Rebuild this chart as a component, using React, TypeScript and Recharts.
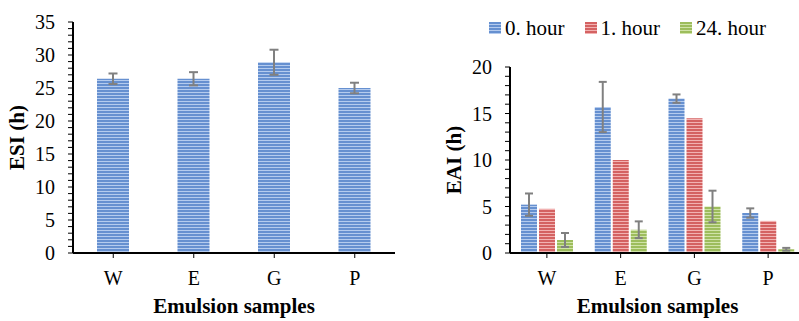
import React from "react";
import { Bar, BarChart, ErrorBar, Legend, XAxis, YAxis } from "recharts";

const samples = ["W", "E", "G", "P"];

// emulsion stability index (h) with standard deviation
const esiValues = [26.4, 26.4, 28.9, 25.0];
const esiErrors = [0.8, 1.0, 1.9, 0.8];

// emulsifying activity index (h) at each sampling time
const eaiHour0 = [5.2, 15.7, 16.6, 4.3];
const eaiHour0Err = [1.2, 2.7, 0.45, 0.5];
const eaiHour1 = [4.75, 10.0, 14.5, 3.45];
const eaiHour24 = [1.4, 2.5, 5.0, 0.4];
const eaiHour24Err = [0.75, 0.9, 1.7, 0.15];

const esiMajorTicks = [0, 5, 10, 15, 20, 25, 30, 35];
const eaiMajorTicks = [0, 5, 10, 15, 20];

const FONT = "Liberation Serif";

const esiData = samples.map((name, i) => ({
  name,
  esi: esiValues[i],
  esiErr: esiErrors[i],
}));

const eaiData = samples.map((name, i) => ({
  name,
  h0: eaiHour0[i],
  h0Err: eaiHour0Err[i],
  h1: eaiHour1[i],
  h24: eaiHour24[i],
  h24Err: eaiHour24Err[i],
}));

const minorTicks = (max: number) => Array.from({ length: max + 1 }, (_, i) => i);

const stripes = [
  { id: "stripe-blue", dark: "#6690d0", light: "#b4cbee" },
  { id: "stripe-red", dark: "#d46262", light: "#f2b2b2" },
  { id: "stripe-green", dark: "#9dbd5c", light: "#d0e3a8" },
];

const StripeDefs = ({ suffix }: { suffix: string }) => (
  <defs>
    {stripes.map((s) => (
      <pattern
        key={s.id}
        id={`${s.id}-${suffix}`}
        width={6}
        height={3}
        patternUnits="userSpaceOnUse"
      >
        <rect width={6} height={3} fill={s.light} />
        <rect width={6} height={2} fill={s.dark} />
      </pattern>
    ))}
  </defs>
);

const YTick = ({ x, y, payload, majors }: any) => {
  if (!majors.includes(payload.value)) return null;
  return (
    <text
      x={x}
      y={y}
      dy="0.35em"
      textAnchor="end"
      style={{ fontFamily: FONT, fontSize: 20 }}
      fill="#000"
    >
      {payload.value}
    </text>
  );
};

const XTick = ({ x, y, payload }: any) => (
  <text
    x={x}
    y={y}
    dy="0.71em"
    textAnchor="middle"
    style={{ fontFamily: FONT, fontSize: 20 }}
    fill="#000"
  >
    {payload.value}
  </text>
);

const yTitle = (text: string, dx: number) => (props: any) => {
  const { x, y, height } = props.viewBox;
  const cx = x + dx;
  const cy = y + height / 2;
  return (
    <text
      x={cx}
      y={cy}
      transform={`rotate(-90 ${cx} ${cy})`}
      textAnchor="middle"
      dominantBaseline="central"
      style={{ fontFamily: FONT, fontSize: 21, fontWeight: "bold" }}
      fill="#000"
    >
      {text}
    </text>
  );
};

const xTitle = (props: any) => {
  const { x, y, width } = props.viewBox;
  return (
    <text
      x={x + width / 2}
      y={y + 60}
      textAnchor="middle"
      style={{ fontFamily: FONT, fontSize: 21, fontWeight: "bold" }}
      fill="#000"
    >
      Emulsion samples
    </text>
  );
};

const axisLine = { stroke: "#000", strokeWidth: 2 };
const tickLine = { stroke: "#000", strokeWidth: 1 };

const eaiSeries = [
  { key: "h0", name: "0. hour", fill: "url(#stripe-blue-r)" },
  { key: "h1", name: "1. hour", fill: "url(#stripe-red-r)" },
  { key: "h24", name: "24. hour", fill: "url(#stripe-green-r)" },
];

const EaiLegend = () => (
  <div style={{ display: "flex", height: 30, alignItems: "center" }}>
    {eaiSeries.map((s) => (
      <div
        key={s.key}
        style={{ display: "flex", alignItems: "center", marginRight: 20 }}
      >
        <svg width={12} height={12} style={{ marginRight: 4 }}>
          <rect width={12} height={12} fill={s.fill} />
        </svg>
        <span style={{ fontFamily: FONT, fontSize: 21, color: "#000" }}>
          {s.name}
        </span>
      </div>
    ))}
  </div>
);

export default function App() {
  return (
    <div
      style={{
        position: "absolute",
        left: 0,
        top: 0,
        width: 799,
        height: 321,
        overflow: "hidden",
        background: "#fff",
      }}
    >
      <div style={{ position: "absolute", left: 0, top: 0 }}>
        <BarChart
          width={400}
          height={321}
          data={esiData}
          margin={{ top: 22, right: 5, bottom: 0, left: 0 }}
          barSize={32}
        >
          <StripeDefs suffix="l" />
          <XAxis
            dataKey="name"
            height={68}
            axisLine={axisLine}
            tickLine={tickLine}
            tickSize={5}
            tickMargin={13}
            tick={<XTick />}
            label={{ content: xTitle }}
          />
          <YAxis
            width={73}
            domain={[0, 35]}
            ticks={minorTicks(35)}
            interval={0}
            axisLine={axisLine}
            tickLine={tickLine}
            tickSize={5}
            tickMargin={13}
            tick={<YTick majors={esiMajorTicks} />}
            label={{ content: yTitle("ESI (h)", 17) }}
          />
          <Bar dataKey="esi" fill="url(#stripe-blue-l)" isAnimationActive={false}>
            <ErrorBar
              dataKey="esiErr"
              width={4.5}
              stroke="#808080"
              strokeWidth={2}
              isAnimationActive={false}
            />
          </Bar>
        </BarChart>
      </div>
      <div style={{ position: "absolute", left: 400, top: 0 }}>
        <BarChart
          width={405}
          height={321}
          data={eaiData}
          margin={{ top: 37, right: 0, bottom: 0, left: 0 }}
          barSize={16}
          barGap={2}
        >
          <StripeDefs suffix="r" />
          <Legend
            verticalAlign="top"
            content={<EaiLegend />}
            wrapperStyle={{ top: 13, left: 89, width: "auto" }}
          />
          <XAxis
            dataKey="name"
            height={68}
            axisLine={axisLine}
            tickLine={tickLine}
            tickSize={5}
            tickMargin={13}
            tick={<XTick />}
            label={{ content: xTitle }}
          />
          <YAxis
            width={110}
            domain={[0, 20]}
            ticks={minorTicks(20)}
            interval={0}
            axisLine={axisLine}
            tickLine={tickLine}
            tickSize={5}
            tickMargin={13}
            tick={<YTick majors={eaiMajorTicks} />}
            label={{ content: yTitle("EAI (h)", 54) }}
          />
          <Bar dataKey="h0" name="0. hour" fill={eaiSeries[0].fill} isAnimationActive={false}>
            <ErrorBar
              dataKey="h0Err"
              width={4}
              stroke="#808080"
              strokeWidth={2}
              isAnimationActive={false}
            />
          </Bar>
          <Bar dataKey="h1" name="1. hour" fill={eaiSeries[1].fill} isAnimationActive={false} />
          <Bar dataKey="h24" name="24. hour" fill={eaiSeries[2].fill} isAnimationActive={false}>
            <ErrorBar
              dataKey="h24Err"
              width={4}
              stroke="#808080"
              strokeWidth={2}
              isAnimationActive={false}
            />
          </Bar>
        </BarChart>
      </div>
    </div>
  );
}
